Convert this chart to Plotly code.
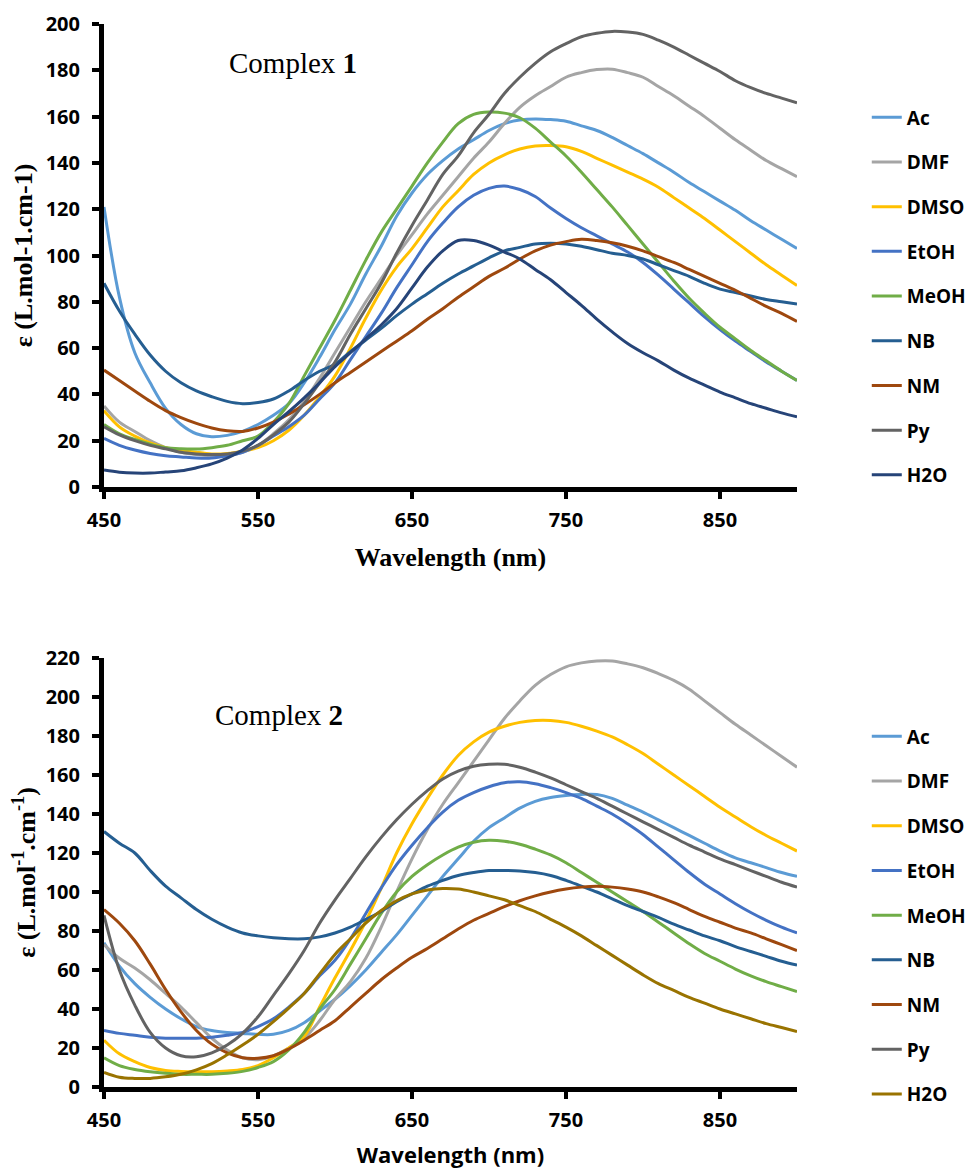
import plotly.graph_objects as go

# ---------------- data ----------------
wavelength = list(range(450, 901, 10))

solvents = ["Ac", "DMF", "DMSO", "EtOH", "MeOH", "NB", "NM", "Py", "H2O"]

# Complex 1  (values at 450, 460, ..., 900 nm)
ac_1 = [121, 82, 58, 45, 34, 27, 23, 21.7, 22.3, 24, 27, 31, 36, 45, 56, 68, 79, 92, 104, 117,
        127, 135, 141, 146, 150, 154, 157, 158.5, 159, 158.7, 158, 156, 154, 151, 147.5, 144, 140, 136, 131.5, 127.5,
        123.5, 119.5, 115, 111, 107, 103]
dmf_1 = [35, 28, 24, 20, 17, 15, 14, 13.5, 13.5, 15, 18, 23, 29, 37, 47, 58, 69, 80, 90, 100,
         109, 118, 126, 134, 142, 149, 157, 164, 169, 173, 177, 179, 180.3, 180.5, 179, 177, 173, 169, 164.5, 160,
         155, 150, 145.5, 141, 137.5, 134]
dmso_1 = [33, 26, 22, 19, 17, 16, 15, 14.3, 14.5, 15.5, 17, 20, 24.5, 31, 39, 48, 60, 73, 85, 95,
          103, 112, 121, 128, 135, 140, 143.5, 146, 147.3, 147.5, 147, 145, 142, 139, 136, 133, 129.5, 125, 120.5, 116,
          111, 106, 101, 96, 91.5, 87]
etoh_1 = [21, 18, 16, 14.5, 13.5, 13, 12.5, 12.5, 13.5, 15, 18, 22, 26, 31, 38, 45, 55, 65, 75, 86,
          96, 106, 114, 121, 126, 129, 130, 128.5, 125.5, 120.5, 116, 112, 108.5, 105, 101.5, 97, 91.5, 85.5, 79.5, 73.5,
          68, 63, 58.5, 54, 50, 46]
meoh_1 = [27, 23, 20.5, 18.5, 17, 16.5, 16.4, 17, 18, 20, 22, 28, 36, 48, 60, 72, 85, 98, 110, 120,
          130, 140, 149, 157, 161, 162, 161.5, 159.5, 155, 149, 143, 136, 128.5, 121, 113, 105, 97, 89, 81.5, 75,
          69, 64, 59, 54.5, 50, 46]
nb_1 = [88, 76, 66, 57, 50, 45, 41.5, 39, 37, 36, 36.5, 38, 41.5, 46, 50, 53, 58.5, 63.5, 68.5, 74,
        79, 83.5, 88, 92, 95.5, 99, 102, 103.5, 105, 105.3, 105, 104, 102.5, 101, 100, 98.5, 96, 93.5, 91, 88,
        85.5, 84, 82.5, 81, 80, 79]
nm_1 = [50.5, 46, 41.5, 37, 33, 30, 27.5, 25.5, 24.3, 24, 25.5, 28, 31.5, 35.5, 40, 45, 49.5, 54, 58.5, 63,
        67.5, 72.5, 77, 82, 86.5, 91, 94.5, 98.5, 102, 104.5, 106, 107, 106.5, 105.5, 104, 102, 99.5, 97, 94, 91,
        88, 85, 81.5, 78, 75, 71.5]
py_1 = [26, 22.5, 20, 18, 16.5, 15, 14.3, 14, 14.3, 15.5, 18, 22.5, 28, 36, 45, 54, 66, 77, 88, 101,
        113, 124, 135, 143, 153, 161, 170, 177, 183, 188, 191.5, 194.5, 196, 196.8, 196.5, 195.5, 193, 190, 186.5, 183,
        179.5, 175.5, 172.5, 170, 168, 166]
h2o_1 = [7.3, 6.4, 6, 6, 6.5, 7, 8.3, 10, 12.5, 16, 21, 27, 32.5, 38.5, 45, 52, 58, 64, 70, 77,
         86, 95, 102, 106.5, 106.5, 104.5, 101.5, 98.5, 94, 89.5, 84, 78.5, 72.5, 67, 62, 58, 54.5, 50.5, 47, 44,
         41, 38.5, 36, 34, 32, 30.3]

# Complex 2  (values at 450, 460, ..., 900 nm)
ac_2 = [74, 62, 53, 46, 40, 35, 31, 29, 28, 27.5, 27, 27, 29, 33, 39, 45, 52, 60, 69, 78,
        88, 98, 108, 117, 126, 133, 138, 143, 146.5, 148.5, 149.5, 150, 150, 148, 144.5, 141, 137, 133, 129, 125,
        121, 117.5, 115, 112.5, 110, 108]
dmf_2 = [73, 66, 61, 55, 48, 41, 33, 25, 19, 15, 14, 16, 20, 25, 34, 45, 54, 66, 82, 100,
         117, 132, 145, 156, 167, 178, 189, 198, 206, 211.5, 215.5, 217.5, 218.5, 218.5, 217, 215, 212, 208.5, 204, 198,
         192, 186, 180.5, 175, 169.5, 164]
dmso_2 = [24, 17, 13, 10, 8.5, 8, 7.8, 7.8, 8.2, 9, 11, 15, 20, 26, 41, 56, 70, 85, 102, 120,
          135, 148, 160, 170, 177, 182, 185, 187, 188, 188, 187, 185, 182.5, 179.5, 175.5, 171, 165.5, 160, 154.5, 149,
          143.5, 138.5, 133.5, 129, 125, 121]
etoh_2 = [29, 27.5, 26.5, 25.5, 25, 25, 25, 25.5, 26.5, 28, 31, 35, 41, 48, 57, 65, 76, 89, 102, 114,
          124, 133, 141, 147, 151, 154, 156, 156.5, 155.5, 153.5, 151, 148, 144, 140, 135, 129.5, 123, 116.5, 110, 104,
          99, 94, 89.5, 85.5, 82, 79]
meoh_2 = [15, 11, 9, 7.8, 7, 6.5, 6.5, 6.5, 7, 8, 10, 13, 19, 28, 40, 50, 63, 76, 89, 100,
          108, 114, 119, 123, 125.5, 126.5, 126, 124.5, 122, 119, 115, 110, 105, 100, 95, 90, 84.5, 79, 73.5, 68.5,
          64.5, 60.5, 57, 54, 51.5, 49]
nb_2 = [131, 125, 120, 111, 103, 97, 91, 86, 82, 79, 77.5, 76.5, 76, 76, 77, 79, 82, 86, 90, 95,
        99, 103, 106, 108.5, 110, 111, 111, 110.8, 110, 108.5, 106, 103, 100, 96.5, 93, 90, 87, 83.5, 80.5, 77.5,
        75, 72, 69.5, 67, 64.5, 62.5]
nm_2 = [91, 84, 75, 63, 50, 38.5, 29, 22, 17.5, 15, 14.7, 16, 19.5, 24, 29, 34, 41, 48, 55, 61,
        66.5, 71, 76, 81, 85.5, 89, 92.5, 95.5, 98, 100, 101.5, 102.5, 103, 102.5, 101.5, 100, 97.5, 94.5, 91, 87.5,
        84.5, 81.5, 79, 76, 73, 70]
py_2 = [88, 60, 42, 28, 20, 16, 15.5, 17.5, 21.5, 27.5, 36, 47, 58, 70, 84, 96, 107, 118, 128, 137,
        145, 152, 158, 162, 164.5, 165.5, 165.5, 164, 161.5, 158.5, 155, 151.5, 148, 144, 140, 136, 132, 128, 124, 120.5,
        117, 114, 111, 108, 105, 102.5]
h2o_2 = [7.5, 5, 4.4, 4.4, 5.2, 6.5, 8.8, 12, 16.5, 21.5, 27, 33.5, 40.5, 48, 58, 68, 76, 84, 90.5, 95.5,
         99, 101, 101.8, 101.5, 100, 98, 96, 93, 90, 86, 82, 77.5, 72.5, 67.5, 62.5, 57.5, 53, 49.5, 46, 43,
         40, 37.5, 35, 32.5, 30.5, 28.5]

x_ticks = [450, 550, 650, 750, 850]

colors_1 = ["#5B9BD5", "#A5A5A5", "#FFC000", "#4472C4", "#70AD47",
            "#255E91", "#9E480E", "#636363", "#264478"]
colors_2 = ["#5B9BD5", "#A5A5A5", "#FFC000", "#4472C4", "#70AD47",
            "#255E91", "#9E480E", "#636363", "#997300"]

series_1 = [ac_1, dmf_1, dmso_1, etoh_1, meoh_1, nb_1, nm_1, py_1, h2o_1]
series_2 = [ac_2, dmf_2, dmso_2, etoh_2, meoh_2, nb_2, nm_2, py_2, h2o_2]

# ---------------- figure ----------------
fig = go.Figure()

for name, ys, col in zip(solvents, series_1, colors_1):
    fig.add_trace(go.Scatter(
        x=wavelength, y=ys, mode="lines", name=name,
        line=dict(color=col, width=3, shape="spline", smoothing=1.0),
        xaxis="x", yaxis="y", legend="legend", legendgroup="c1" + name,
    ))

for name, ys, col in zip(solvents, series_2, colors_2):
    fig.add_trace(go.Scatter(
        x=wavelength, y=ys, mode="lines", name=name,
        line=dict(color=col, width=3, shape="spline", smoothing=1.0),
        xaxis="x2", yaxis="y2", legend="legend2", legendgroup="c2" + name,
    ))

sans_bold = dict(family="Open Sans", size=20, color="black", weight="bold")
legend_font = dict(family="Open Sans", size=19, color="black", weight="bold")
serif_title = dict(family="Liberation Serif", size=26, color="black", weight="bold")

axis_common = dict(
    showline=True, linewidth=5, linecolor="black",
    ticks="outside", ticklen=7, tickwidth=4, tickcolor="black",
    showgrid=False, zeroline=False, tickfont=sans_bold,
)

# the page body adds an 8 px offset, so the figure is 8 px smaller on each axis
top_dom = [(1087 - 487) / 1063, 1.0]
bot_dom = [0.0, (1087 - 658) / 1063]

fig.update_layout(
    width=967, height=1161,
    margin=dict(l=96, r=178, t=16, b=82, autoexpand=False),
    paper_bgcolor="white", plot_bgcolor="white",
    showlegend=True,
    xaxis=dict(domain=[0, 1], anchor="y", range=[450, 900], tickvals=x_ticks,
               ticklabelstandoff=4,
               title=dict(text="Wavelength (nm)", font=serif_title, standoff=17),
               **axis_common),
    yaxis=dict(domain=top_dom, anchor="x", range=[0, 200], dtick=20,
               ticklabelstandoff=8,
               title=dict(text="ε (L.mol-1.cm-1)", font=serif_title, standoff=7),
               **axis_common),
    xaxis2=dict(domain=[0, 1], anchor="y2", range=[450, 900], tickvals=x_ticks,
                ticklabelstandoff=4,
                title=dict(text="Wavelength (nm)",
                           font=dict(family="Open Sans", size=22, color="black", weight="bold"),
                           standoff=23),
                **axis_common),
    yaxis2=dict(domain=bot_dom, anchor="x2", range=[0, 220], dtick=20,
                ticklabelstandoff=8,
                title=dict(text="ε (L.mol<sup>-1</sup>.cm<sup>-1</sup>)", font=serif_title, standoff=7),
                **axis_common),
    legend=dict(x=1.1007, y=0.93, xanchor="left", yanchor="top",
                font=legend_font, tracegroupgap=17, bgcolor="rgba(0,0,0,0)",
                itemwidth=30),
    legend2=dict(x=1.1007, y=0.3476, xanchor="left", yanchor="top",
                 font=legend_font, tracegroupgap=17, bgcolor="rgba(0,0,0,0)",
                 itemwidth=30),
    annotations=[
        dict(text="Complex <b>1</b>", x=0.273, y=0.963, xref="paper", yref="paper",
             xanchor="center", yanchor="middle",
             showarrow=False, font=dict(family="Liberation Serif", size=29, color="black")),
        dict(text="Complex <b>2</b>", x=0.253, y=0.350, xref="paper", yref="paper",
             xanchor="center", yanchor="middle",
             showarrow=False, font=dict(family="Liberation Serif", size=29, color="black")),
    ],
)

fig.write_html("out.html")
